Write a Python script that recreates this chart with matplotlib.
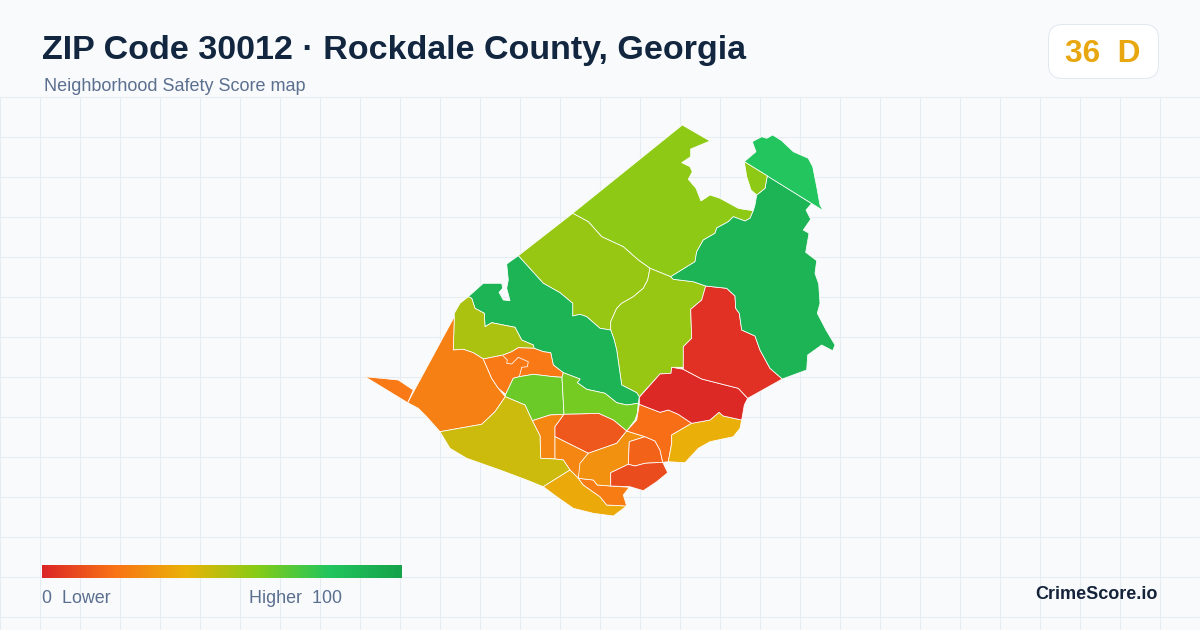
import numpy as np
import matplotlib
matplotlib.use("Agg")
import matplotlib.pyplot as plt
from matplotlib.colors import LinearSegmentedColormap
from matplotlib.patches import FancyBboxPatch

plt.rcParams['font.family'] = ['Liberation Sans', 'DejaVu Sans']

# map outlines in image pixels
north = [(682.3,125),(710,141),(690.7,149),(690.7,156.7),(681.7,162.7),(690,166.7),(692.3,171.7),(688.3,179.3),(696,188.3),(701,201),(710,195),(720,198.3),(738.3,208.3),(741.7,209),(753.3,210.7),(750,218.3),(745,221),(733.3,216.7),(728.3,221.7),(716.7,228),(715,233.3),(703.3,240),(696.7,251.7),(695,261.7),(670.7,276.7),(650,268.3),(638.3,260),(623.3,246.7),(601.7,236.7),(588.3,221.7),(572.7,213.3)]
north_mid = [(572.7,213.3),(588.3,221.7),(601.7,236.7),(623.3,246.7),(638.3,260),(650,268.3),(647.7,280),(643.3,288.3),(633.3,296.7),(621.7,303.3),(616.7,308.3),(610.7,321.7),(610.7,330),(600,328.3),(586.7,316.7),(580,314.3),(572.7,316),(572.7,303.3),(560,292.7),(543.3,283.3),(518.3,255.7)]
center = [(650,268.3),(670.7,276.7),(673.3,279.3),(693.3,281.7),(705.7,286),(701.7,300),(690.7,309.3),(691.7,338.3),(683.3,346.7),(683.3,367.3),(671.7,367.3),(671,373.3),(660,374),(639.3,396.7),(636.7,392.7),(621.7,385),(616.7,350),(614,339.3),(610.7,330),(610.7,321.7),(616.7,308.3),(621.7,303.3),(633.3,296.7),(643.3,288.3),(647.7,280)]
strip = [(468.3,296.7),(483.3,283.3),(501.7,283.3),(502.7,288.3),(499,292.3),(503.3,300),(510,300.7),(506.7,288.3),(508.3,280),(506.7,264),(518.3,255.7),(543.3,283.3),(560,292.7),(572.7,303.3),(572.7,316),(580,314.3),(586.7,316.7),(600,328.3),(610.7,330),(614,339.3),(616.7,350),(621.7,385),(636.7,392.7),(639.3,396.7),(638.3,403.3),(626.7,405),(616.7,402.7),(605,393.3),(586.7,389.3),(577.3,382.7),(580,379),(563.3,372.7),(553.3,365),(550.7,352.7),(543.3,351.7),(534,348.3),(533.3,345),(521.7,340),(515,327.3),(491.7,322.7),(485,326.7),(484.3,313.3),(475,308.3),(471.7,298.3)]
west_olive = [(468.3,296.7),(471.7,298.3),(475,308.3),(484.3,313.3),(485,326.7),(491.7,322.7),(515,327.3),(521.7,340),(533.3,345),(534,348.3),(518.3,347.7),(511.7,351.7),(503.3,355),(483.3,359),(473.3,352.7),(463.3,349.3),(453.3,350),(454.3,313.3),(460,303.3)]
west_orange = [(454.3,316.7),(453.3,350),(463.3,349.3),(473.3,352.7),(483.3,359),(491.7,378.3),(498.3,388.3),(505.3,396.7),(495,411.7),(481.7,424.3),(440,431.7),(426.7,416.7),(418.3,408.3),(407.7,402.7)]
west_tip = [(365,376.7),(398.3,380),(413.3,390),(407.7,402.7)]
mid_orange = [(483.3,359),(503.3,355),(511.7,351.7),(518.3,347.7),(534,348.3),(543.3,351.7),(550.7,352.7),(553.3,365),(563.3,372.7),(562,377.3),(553.3,376.7),(533.3,374.3),(519.3,376.7),(513.3,378.3),(505.7,394.3),(498.3,388.3),(491.7,378.3)]
mid_green = [(505.7,394.3),(513.3,378.3),(519.3,376.7),(533.3,374.3),(553.3,376.7),(562,377.3),(564,414.3),(550,415),(532.3,420.7),(525,405),(505.3,396.7)]
mid_lime = [(563.3,372.7),(580,379),(577.3,382.7),(586.7,389.3),(605,393.3),(616.7,402.7),(626.7,405),(638.3,403.3),(637.3,413.3),(635,420),(626.7,431),(613.3,420),(598.3,413.3),(580,414),(564,414.3),(562,377.3)]
south_a = [(532.3,420.7),(550,415),(564,414.3),(555,426.7),(555,436.7),(555,459),(540.7,458.3),(540,435.7)]
south_b = [(564,414.3),(580,414),(598.3,413.3),(613.3,420),(626.7,431),(616.7,443.3),(588.3,453.3),(555,436.7),(555,426.7)]
south_c = [(555,436.7),(588.3,453.3),(581.7,461.7),(580,470),(578.3,478.3),(570,470),(563.3,460),(555,459)]
olive = [(440,431.7),(481.7,424.3),(495,411.7),(505.3,396.7),(525,405),(532.3,420.7),(540,435.7),(540.7,458.3),(555,459),(563.3,460),(570,470),(543.3,486.7),(526.7,480),(500,470),(466.7,458.3),(450,448.3)]
coast_amber = [(570,470),(543.3,486.7),(556.7,496.7),(573.3,508.3),(593.3,513.3),(613.3,516),(626.7,506),(606.7,505),(600,496.7),(583.3,485),(578.3,478.3)]
coast_orange = [(578.3,478.3),(583.3,485),(600,496.7),(606.7,505),(626.7,506),(623.3,495),(629.3,487.3),(610.7,486),(597.3,485),(593.3,480)]
core = [(626.7,431),(645,436.7),(629.3,441.7),(628.3,464.3),(610.7,472.7),(610.7,486),(597.3,485),(593.3,480),(578.3,478.3),(580,463.3),(588.3,453.3),(616.7,443.3)]
core_inner = [(629.3,441.7),(645,436.7),(655,441),(660,450),(662.7,462.3),(645,463.3),(635,466),(628.3,464.3)]
south_red = [(610.7,472.7),(628.3,464.3),(635,466),(645,463.3),(662.7,462.3),(667.7,472.7),(656.7,481.7),(643.3,490.7),(630,486.7),(610.7,486)]
east_orange = [(639.3,404.3),(660,412.3),(668.3,410),(678.3,414.3),(691.7,423.3),(671.7,435),(671.7,443.3),(668.3,461.7),(662.7,462.3),(660,450),(655,441),(645,436.7),(626.7,431),(636.7,420)]
east_amber = [(691.7,423.3),(710,420),(719,412.3),(723.3,416),(741.7,420),(740,428.3),(733.3,436.7),(710,441.7),(698.3,448.3),(685,462.7),(668.3,461.7),(671.7,443.3),(671.7,435)]
red_low = [(639.3,397.3),(660,374),(671,373.3),(671.7,367.3),(683.3,369.3),(701.7,379),(738.3,388.3),(747.7,398.3),(744.3,405),(741.7,420),(723.3,416),(719,412.3),(710,420),(691.7,423.3),(678.3,414.3),(668.3,410),(660,412.3),(639.3,404.3)]
red_high = [(705.7,286),(726.7,288.3),(735,296),(735.7,308.3),(739.3,313.3),(741.7,330),(755,336),(760,350),(770,368.3),(782.3,379),(747.7,398.3),(738.3,388.3),(701.7,379),(683.3,369.3),(683.3,346.7),(691.7,338.3),(690.7,309.3),(701.7,300)]
east_green = [(670.7,276.7),(695,261.7),(696.7,251.7),(703.3,240),(715,233.3),(716.7,228),(728.3,221.7),(733.3,216.7),(745,221),(750,218.3),(753.3,210.7),(755,205),(756.7,195),(765,188.3),(767.3,175.8),(811.7,203.5),(806,210),(810.7,219.3),(803.3,230),(809,233.3),(805.7,252.3),(816.7,260.7),(815,273.3),(818.7,284),(820,303.3),(817.3,313.3),(826,330),(835,345),(832.7,350.7),(821.7,345),(807.7,355),(806.7,370),(782.3,379),(770,368.3),(760,350),(755,336),(741.7,330),(739.3,313.3),(735.7,308.3),(735,296),(726.7,288.3),(705.7,286),(693.3,281.7),(673.3,279.3)]
top_green = [(744.3,161.7),(756,151.7),(752.3,141.7),(761.7,136.7),(766.7,138.3),(772.7,135),(781.7,140.7),(793.3,151.7),(808.3,158.3),(812.7,166.7),(816.7,186.7),(820,205),(823.3,210.7)]
top_lime = [(744.3,161.7),(767.3,175.8),(765,188.3),(756.7,195),(751,190),(746.7,176.7)]
squiggle = [(503.3,356),(507.3,360),(506.7,363.3),(511.7,364),(518.3,357.3),(528.3,361.7),(527.3,366.7),(521.7,367.3),(519.3,376.7)]

regions = [north, north_mid, center, strip, west_olive, west_orange, west_tip, mid_orange, mid_green, mid_lime,
           south_a, south_b, south_c, olive, coast_amber, coast_orange, core, core_inner, south_red,
           east_orange, east_amber, red_low, red_high, east_green, top_green, top_lime]
scores = [58, 56, 56, 90, 52, 24, 22, 22, 65, 63,
          26, 13, 26, 46, 37, 23, 29, 16, 10,
          19, 39, 1, 3, 90, 80, 58]

score_stops = [0, 0.2, 0.4, 0.6, 0.8, 1]
stop_colors = ['#dc2626', '#f97316', '#eab308', '#84cc16', '#22c55e', '#16a34a']
grid_x = np.arange(0, 1201, 40)
grid_y = np.arange(97, 630, 40)

cmap = LinearSegmentedColormap.from_list('safety', list(zip(score_stops, stop_colors)))

fig = plt.figure(figsize=(12, 6.3), dpi=100, facecolor='#f8fafc')
ax = fig.add_axes([0, 0, 1, 1])
ax.axis('off')

ax.vlines(grid_x, 97, 630, color='#e5ecf2', lw=0.75, zorder=1)
ax.hlines(grid_y, 0, 1200, color='#e5ecf2', lw=0.75, zorder=1)

for shape, score in zip(regions, scores):
    xs, ys = zip(*shape)
    ax.fill(xs, ys, facecolor=cmap(score / 100), edgecolor='white', lw=0.55, joinstyle='round', zorder=2)
xs, ys = zip(*squiggle)
ax.plot(xs, ys, color='white', lw=0.55, zorder=3)

ax.text(42, 59.3, 'ZIP Code 30012 · Rockdale County, Georgia', fontsize=24.45, fontweight='bold', color='#12263f')
ax.text(44, 90.7, 'Neighborhood Safety Score map', fontsize=12.95, color='#5b6f8f')

badge = FancyBboxPatch((1048.5, 24.5), 110, 54, boxstyle='round,pad=0,rounding_size=14',
                       facecolor='white', edgecolor='#e2e8f0', lw=0.72, zorder=4)
ax.add_patch(badge)
ax.text(1103, 61.7, '36  D', fontsize=22.8, fontweight='bold', color='#e8a70f', ha='center', zorder=5)

ramp = np.linspace(0, 1, 360).reshape(1, -1)
ax.imshow(ramp, cmap=cmap, extent=(42, 402, 578, 565), aspect='auto', zorder=4)
ax.set_xlim(0, 1200)
ax.set_ylim(630, 0)
ax.text(42, 602.7, '0  Lower', fontsize=12.9, color='#5b6f8f')
ax.text(249, 602.7, 'Higher  100', fontsize=12.9, color='#5b6f8f')
ax.text(1158, 599, 'CrimeScore.io', fontsize=13, fontweight='bold', color='#15233a', ha='right')

fig.savefig('out.png', dpi=100, facecolor=fig.get_facecolor())
